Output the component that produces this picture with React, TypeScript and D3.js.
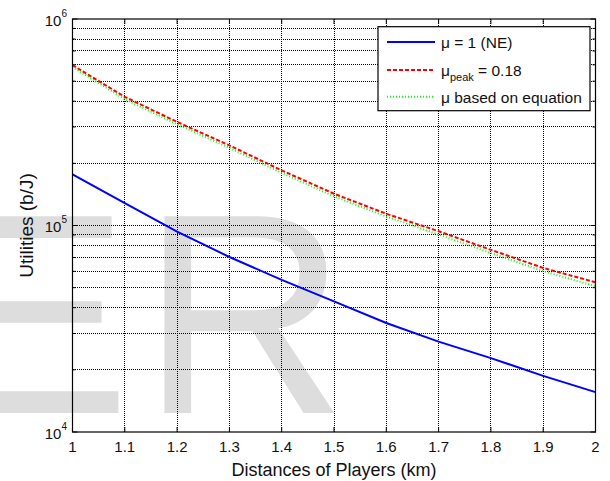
import React from "react";
import * as d3 from "d3";

// values
const distances = [1, 1.1, 1.2, 1.3, 1.4, 1.5, 1.6, 1.7, 1.8, 1.9, 2];
const utilNE = [176900, 128300, 93500, 70400, 54500, 42900, 33700, 27400, 22800, 18700, 15600];
const utilPeak = [597800, 419600, 317400, 244300, 184900, 142500, 114000, 93800, 76200, 62300, 53100];
const utilEq = [584800, 409000, 309300, 237700, 179800, 138300, 110600, 90400, 73560, 60130, 50840];

const xTicks = [1, 1.1, 1.2, 1.3, 1.4, 1.5, 1.6, 1.7, 1.8, 1.9, 2];
const yExponents = [4, 5, 6];

const W = 610;
const H = 481;
const plot = { left: 72.5, right: 595.5, top: 19, bottom: 432 };
const font = "'Liberation Sans', Arial, Helvetica, sans-serif";

export default function App() {
  const x = d3.scaleLinear().domain([1, 2]).range([plot.left, plot.right]);
  const y = d3.scaleLog().domain([1e4, 1e6]).range([plot.bottom, plot.top]);

  // minor decades 2..9 x 10^k
  const minorY: number[] = [];
  for (let k = 4; k < 6; k++) {
    for (let m = 2; m <= 9; m++) minorY.push(m * Math.pow(10, k));
  }

  const line = d3
    .line<number>()
    .x((_, i) => x(distances[i]))
    .y((d) => y(d));

  const grid = {
    stroke: "#000",
    strokeWidth: 1,
    strokeDasharray: "1,1",
    shapeRendering: "crispEdges" as const,
  };

  return (
    <svg
      width={W}
      height={H}
      style={{ position: "absolute", left: 0, top: 0, background: "#fff" }}
      fontFamily={font}
    >
      {/* watermark */}
      <g fill="#dddddd" fontSize={286} fontFamily={font}>
        <text transform="translate(-94,413) scale(1.19,1)">E</text>
        <text x={141} y={413}>
          R
        </text>
      </g>

      {/* grid */}
      <g>
        {xTicks.slice(1, -1).map((t) => (
          <line key={"gx" + t} x1={x(t)} x2={x(t)} y1={plot.top} y2={plot.bottom} {...grid} />
        ))}
        {minorY.concat([1e5]).map((v) => (
          <line key={"gy" + v} x1={plot.left} x2={plot.right} y1={y(v)} y2={y(v)} {...grid} />
        ))}
      </g>

      {/* ticks */}
      <g stroke="#000" strokeWidth={1}>
        {xTicks.map((t) => (
          <g key={"tx" + t}>
            <line x1={x(t)} x2={x(t)} y1={plot.bottom} y2={plot.bottom - 5} />
            <line x1={x(t)} x2={x(t)} y1={plot.top} y2={plot.top + 5} />
          </g>
        ))}
        {yExponents.map((e) => (
          <g key={"ty" + e}>
            <line x1={plot.left} x2={plot.left + 5} y1={y(10 ** e)} y2={y(10 ** e)} />
            <line x1={plot.right} x2={plot.right - 5} y1={y(10 ** e)} y2={y(10 ** e)} />
          </g>
        ))}
        {minorY.map((v) => (
          <g key={"my" + v}>
            <line x1={plot.left} x2={plot.left + 3} y1={y(v)} y2={y(v)} />
            <line x1={plot.right} x2={plot.right - 3} y1={y(v)} y2={y(v)} />
          </g>
        ))}
      </g>

      {/* series */}
      <path d={line(utilNE) || ""} fill="none" stroke="#0000ff" strokeWidth={2} />
      <path d={line(utilEq) || ""} fill="none" stroke="#00ff00" strokeWidth={2} strokeDasharray="1,2" />
      <path d={line(utilPeak) || ""} fill="none" stroke="#ff0000" strokeWidth={2} strokeDasharray="4,2" />

      {/* axes box */}
      <rect
        x={plot.left}
        y={plot.top}
        width={plot.right - plot.left}
        height={plot.bottom - plot.top}
        fill="none"
        stroke="#000"
        strokeWidth={1.2}
      />

      {/* tick labels */}
      <g fontSize={15} fill="#111">
        {xTicks.map((t) => (
          <text key={"lx" + t} x={x(t)} y={plot.bottom + 20} textAnchor="middle">
            {d3.format("~g")(t)}
          </text>
        ))}
        {yExponents.map((e) => (
          <text key={"ly" + e} x={67} y={y(10 ** e) + 6.5} textAnchor="end">
            <tspan>10</tspan>
            <tspan fontSize={10} dy={-9}>
              {e}
            </tspan>
          </text>
        ))}
      </g>

      {/* axis labels */}
      <text x={(plot.left + plot.right) / 2} y={476} fontSize={18} textAnchor="middle" fill="#111">
        Distances of Players (km)
      </text>
      <text
        transform={`translate(32.5,${(plot.top + plot.bottom) / 2}) rotate(-90)`}
        fontSize={19}
        textAnchor="middle"
        fill="#111"
      >
        Utilities (b/J)
      </text>

      {/* legend */}
      <g>
        <rect x={378} y={26.7} width={212} height={84} fill="#fff" stroke="#000" strokeWidth={1.2} />
        <line x1={387} x2={435} y1={42} y2={42} stroke="#0000ff" strokeWidth={2} />
        <line x1={387} x2={435} y1={70} y2={70} stroke="#ff0000" strokeWidth={2} strokeDasharray="4,2" />
        <line x1={387} x2={435} y1={96.7} y2={96.7} stroke="#00ff00" strokeWidth={2} strokeDasharray="1,2" />
        <g fontSize={15.5} fill="#111">
          <text x={441} y={48}>μ = 1 (NE)</text>
          <text x={441} y={75.5}>
            <tspan>μ</tspan>
            <tspan fontSize={11} dy={5}>
              peak
            </tspan>
            <tspan dy={-5}> = 0.18</tspan>
          </text>
          <text x={441} y={103}>μ based on equation</text>
        </g>
      </g>
    </svg>
  );
}
